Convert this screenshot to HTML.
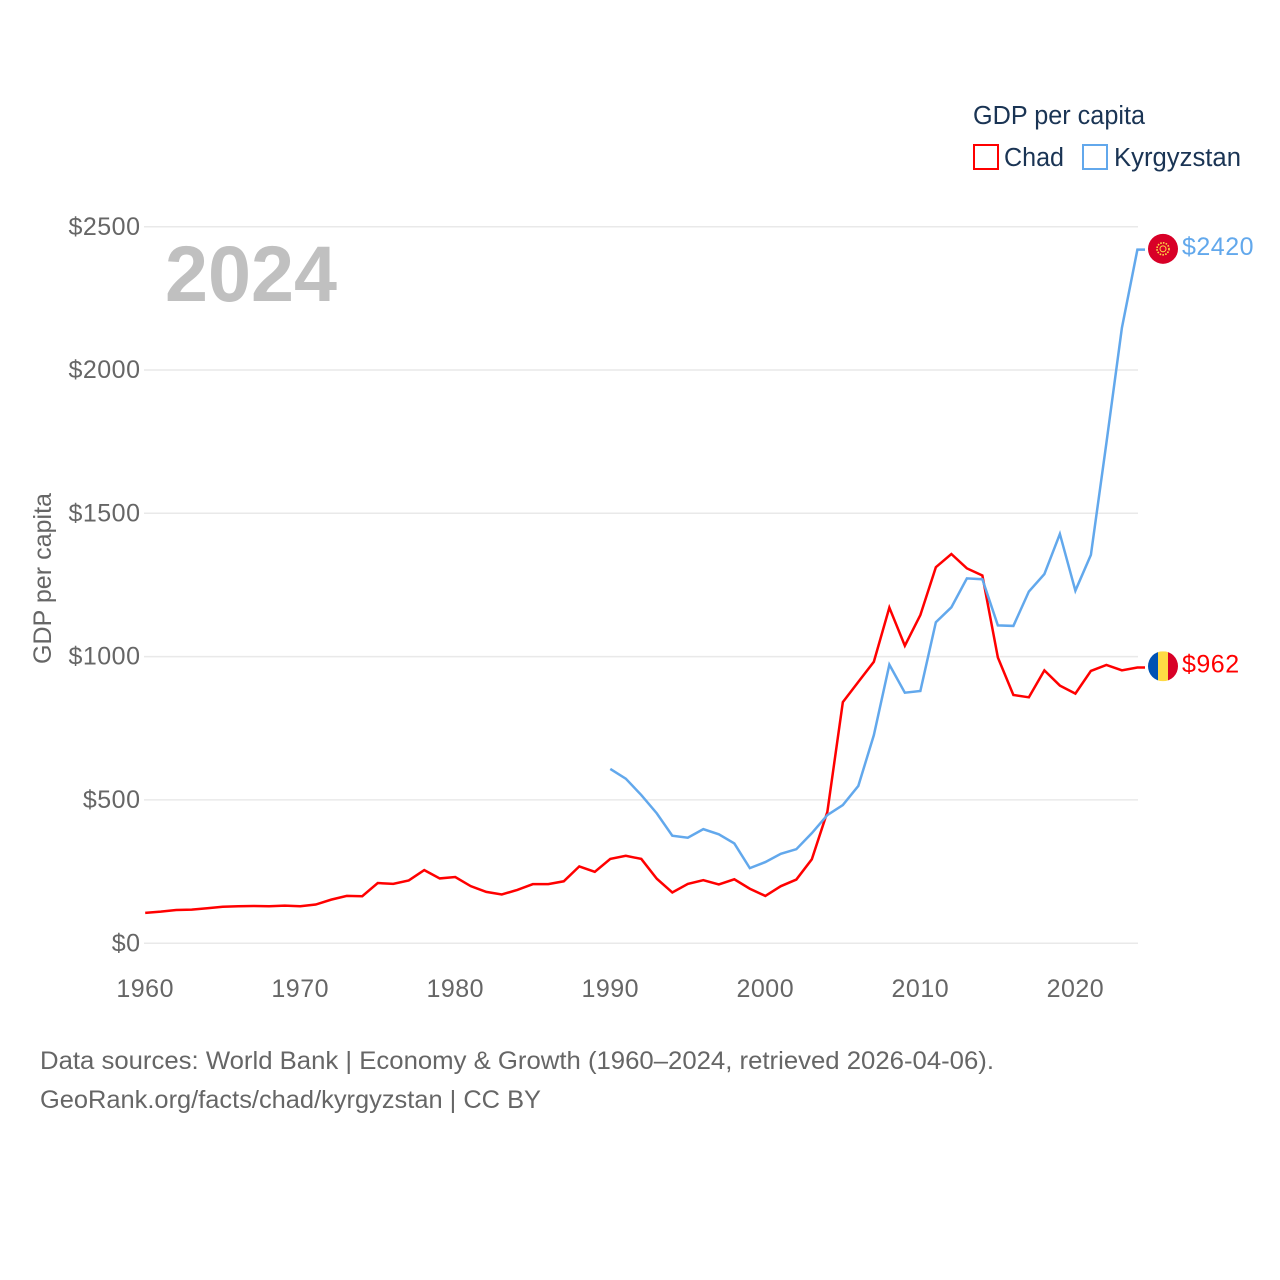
<!DOCTYPE html>
<html lang="en">
<head>
<meta charset="utf-8">
<title>GDP per capita: Chad and Kyrgyzstan</title>
<style>
html,body{margin:0;padding:0;background:#fff;width:1280px;height:1280px;overflow:hidden}
svg{display:block}
text{font-family:"Liberation Sans",sans-serif}
.tick{font-size:25px;fill:#666;letter-spacing:.5px}
</style>
</head>
<body>
<svg id="chart" xmlns="http://www.w3.org/2000/svg" width="1280" height="1280" viewBox="0 0 1280 1280">
  <defs>
    <clipPath id="flag-clip"><circle cx="0" cy="0" r="15"/></clipPath>
  </defs>
  <g id="grid"></g>
  <g id="y-ticks"></g>
  <g id="x-ticks"></g>

  <text x="165" y="301" font-size="79" font-weight="700" fill="#c0c0c0" textLength="172" lengthAdjust="spacingAndGlyphs">2024</text>
  <text transform="translate(51,664) rotate(-90)" font-size="25" fill="#666" textLength="171" lengthAdjust="spacingAndGlyphs">GDP per capita</text>

  <g id="series"></g>

  <g id="flag-kyrgyzstan">
    <circle r="15" fill="#d80027"/>
    <circle r="6" fill="none" stroke="#ffda44" stroke-width="1.6" stroke-dasharray="1.6 1.2"/>
    <circle r="3" fill="none" stroke="#ffda44" stroke-width="1"/>
  </g>
  <g id="flag-chad">
    <g clip-path="url(#flag-clip)">
      <rect x="-15" y="-15" width="10" height="30" fill="#0052b4"/>
      <rect x="-5" y="-15" width="10" height="30" fill="#ffda44"/>
      <rect x="5" y="-15" width="10" height="30" fill="#d80027"/>
    </g>
  </g>
  <text id="label-kyrgyzstan" x="1182" font-size="25" fill="#62a8ec" letter-spacing=".5"></text>
  <text id="label-chad" x="1182" font-size="25" fill="#ff0000" letter-spacing=".5"></text>

  <g>
    <text x="973" y="124" font-size="25.5" fill="#1a3454" textLength="172" lengthAdjust="spacingAndGlyphs">GDP per capita</text>
    <g>
      <rect x="974" y="145" width="24" height="24" fill="none" stroke="#ff0000" stroke-width="2"/>
      <text x="1004" y="166" font-size="25.5" fill="#1a3454" textLength="60" lengthAdjust="spacingAndGlyphs">Chad</text>
    </g>
    <g>
      <rect x="1083" y="145" width="24" height="24" fill="none" stroke="#62a8ec" stroke-width="2"/>
      <text x="1114" y="166" font-size="25.5" fill="#1a3454" textLength="127" lengthAdjust="spacingAndGlyphs">Kyrgyzstan</text>
    </g>
  </g>

  <text x="40" y="1069" font-size="25" fill="#666" textLength="954" lengthAdjust="spacingAndGlyphs">Data sources: World Bank | Economy &amp; Growth (1960–2024, retrieved 2026-04-06).</text>
  <text x="40" y="1108" font-size="25" fill="#666" textLength="501" lengthAdjust="spacingAndGlyphs">GeoRank.org/facts/chad/kyrgyzstan | CC BY</text>
</svg>
<script>
const yTickValues = [0, 500, 1000, 1500, 2000, 2500];
const xTickYears = [1960, 1970, 1980, 1990, 2000, 2010, 2020];
const firstYear = 1960;
const lastYear = 2024;
const chadValues = [
  106, 110, 116, 117, 122, 127, 129, 130, 129, 131,
  129, 135, 152, 165, 164, 210, 207, 219, 255, 226,
  231, 199, 179, 170, 186, 206, 206, 216, 268, 249,
  294, 305, 294, 225, 177, 207, 220, 205, 223, 190,
  165, 199, 222, 293, 458, 841, 912, 982, 1171, 1038,
  1145, 1312, 1358, 1308, 1283, 997, 866, 858, 952, 899,
  871, 950, 971, 952, 962
];
const kyrgyzstanFirstYear = 1990;
const kyrgyzstanValues = [
  608, 574, 517, 453, 375, 368, 398, 380, 348, 262,
  283, 312, 328, 384, 447, 482, 549, 726, 972, 874,
  880, 1120, 1172, 1273, 1270, 1109, 1107, 1227, 1288, 1428,
  1230, 1355, 1745, 2147, 2420
];

const SVG_NS = 'http://www.w3.org/2000/svg';
function xScale(year) {
  return 145.2 + (year - firstYear) * (1137.4 - 145.2) / (lastYear - firstYear);
}
function yScale(value) {
  return 943.2 - value * (943.2 - 226.7) / 2500;
}
function make(tag, parent) {
  const el = document.createElementNS(SVG_NS, tag);
  parent.appendChild(el);
  return el;
}

const gridGroup = document.getElementById('grid');
const yGroup = document.getElementById('y-ticks');
yTickValues.forEach(function (v) {
  const line = make('line', gridGroup);
  
  
  line.setAttribute('x1', 144);
  line.setAttribute('x2', 1138);
  line.setAttribute('y1', yScale(v));
  line.setAttribute('y2', yScale(v));
  line.setAttribute('stroke', '#e9e9e9');
  line.setAttribute('stroke-width', 1.5);

  const label = make('text', yGroup);
  
  
  label.setAttribute('class', 'tick');
  label.setAttribute('x', 140.5);
  label.setAttribute('y', yScale(v) + 8.1);
  label.setAttribute('text-anchor', 'end');
  label.textContent = '$' + v;
});

const xGroup = document.getElementById('x-ticks');
xTickYears.forEach(function (year) {
  const label = make('text', xGroup);
  
  
  label.setAttribute('class', 'tick');
  label.setAttribute('x', xScale(year));
  label.setAttribute('y', 997);
  label.setAttribute('text-anchor', 'middle');
  label.textContent = year;
});

function pathFrom(values, startYear) {
  let d = values.map(function (v, i) {
    return (i ? 'L' : 'M') + xScale(startYear + i).toFixed(2) + ' ' + yScale(v).toFixed(2);
  }).join(' ');
  d += ' H1145';
  return d;
}

const seriesGroup = document.getElementById('series');
const chadLine = make('path', seriesGroup);


chadLine.setAttribute('d', pathFrom(chadValues, firstYear));
chadLine.setAttribute('fill', 'none');
chadLine.setAttribute('stroke', '#ff0000');
chadLine.setAttribute('stroke-width', 2.5);

const kyrgyzstanLine = make('path', seriesGroup);


kyrgyzstanLine.setAttribute('d', pathFrom(kyrgyzstanValues, kyrgyzstanFirstYear));
kyrgyzstanLine.setAttribute('fill', 'none');
kyrgyzstanLine.setAttribute('stroke', '#62a8ec');
kyrgyzstanLine.setAttribute('stroke-width', 2.5);

const chadLast = chadValues[chadValues.length - 1];
const kyrgyzstanLast = kyrgyzstanValues[kyrgyzstanValues.length - 1];
document.getElementById('flag-chad').setAttribute('transform', 'translate(1163,' + (yScale(chadLast) - 1.2) + ')');
document.getElementById('flag-kyrgyzstan').setAttribute('transform', 'translate(1163,' + (yScale(kyrgyzstanLast) - 0.8) + ')');
const chadLabel = document.getElementById('label-chad');
chadLabel.setAttribute('y', yScale(chadLast) + 4.8);
chadLabel.textContent = '$' + chadLast;
const kyrgyzstanLabel = document.getElementById('label-kyrgyzstan');
kyrgyzstanLabel.setAttribute('y', yScale(kyrgyzstanLast) + 5.2);
kyrgyzstanLabel.textContent = '$' + kyrgyzstanLast;
</script>
</body>
</html>
